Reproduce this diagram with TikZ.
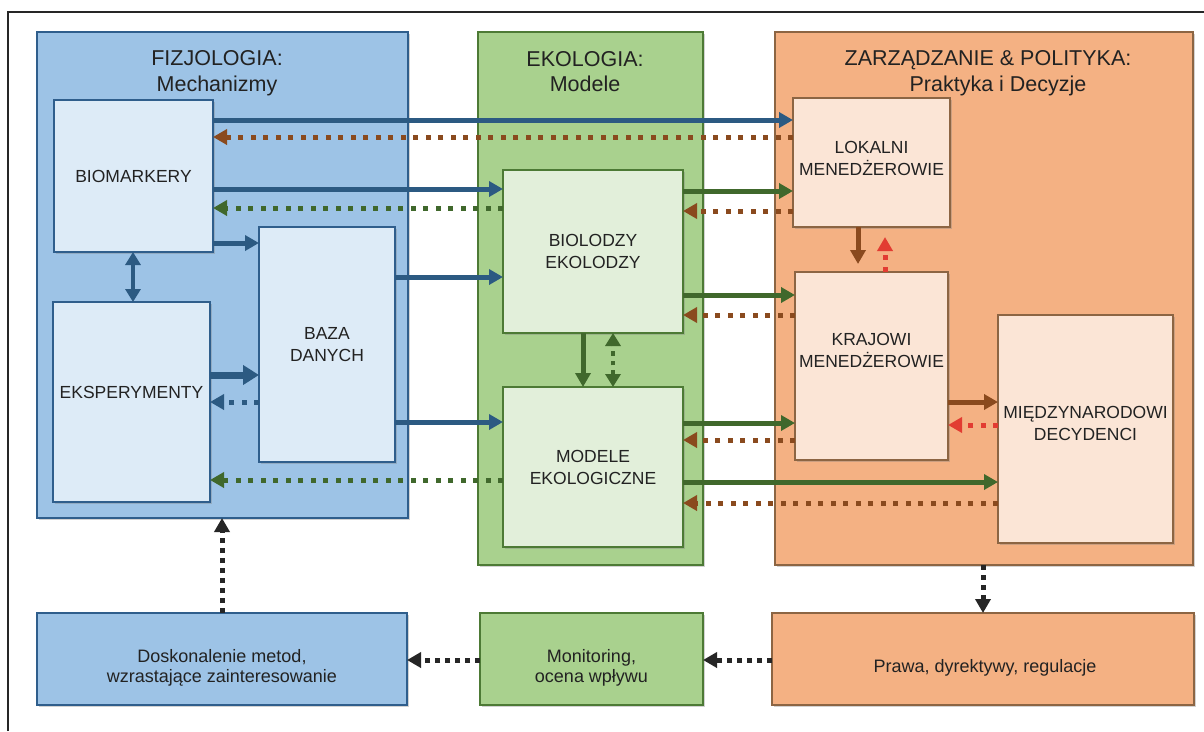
\documentclass[tikz,border=0pt]{standalone}
\usepackage{fontspec}
\setmainfont{Liberation Sans}
\usetikzlibrary{arrows.meta,shadows}
\definecolor{bP}{HTML}{9DC3E6}
\definecolor{bB}{HTML}{2F5E8C}
\definecolor{bL}{HTML}{DDEBF7}
\definecolor{gP}{HTML}{A9D18E}
\definecolor{gB}{HTML}{4D7A35}
\definecolor{gL}{HTML}{E2EFDA}
\definecolor{oP}{HTML}{F4B183}
\definecolor{oB}{HTML}{8C6543}
\definecolor{oL}{HTML}{FBE5D6}
\definecolor{aBlue}{HTML}{2C5A82}
\definecolor{aGreen}{HTML}{40682C}
\definecolor{aBrown}{HTML}{8A4A1E}
\definecolor{aRed}{HTML}{E23C32}
\definecolor{txt}{HTML}{222222}
\newcommand\boxfont{\fontsize{17.5}{22}\selectfont}
\newcommand\lowfont{\fontsize{18}{20}\selectfont}
\newcommand\titlefont{\fontsize{21.5}{27}\selectfont}
\begin{document}
\begin{tikzpicture}[x=1pt,y=-1pt,
  every node/.style={inner sep=0pt,outer sep=0pt,text=txt},
  shd/.style={drop shadow={shadow xshift=1.5pt,shadow yshift=-2pt,opacity=0.35}},
  panelB/.style={draw=bB,fill=bP,line width=2.8pt,shd},
  panelG/.style={draw=gB,fill=gP,line width=2.8pt,shd},
  panelO/.style={draw=oB,fill=oP,line width=2.8pt,shd},
  boxB/.style={draw=bB,fill=bL,line width=2.8pt,shd,align=center,font=\boxfont},
  boxG/.style={draw=gB,fill=gL,line width=2.8pt,shd,align=center,font=\boxfont},
  boxO/.style={draw=oB,fill=oL,line width=2.8pt,shd,align=center,font=\boxfont},
  ttl/.style={font=\titlefont,anchor=base},
  lbl/.style={font=\boxfont,align=center},
  low/.style={font=\lowfont,align=center},
  tipS/.style={-{Triangle[length=14pt,width=15pt]}},
  sol/.style={line width=5pt,tipS},
  dot/.style={line width=5pt,dash pattern=on 5pt off 7.5pt,tipS},
  bsol/.style={sol,draw=aBlue},
  bsolthick/.style={line width=7pt,draw=aBlue,-{Triangle[length=16pt,width=19pt]}},
  bdot/.style={dot,draw=aBlue},
  gsol/.style={sol,draw=aGreen},
  gdot/.style={dot,draw=aGreen},
  brsol/.style={sol,draw=aBrown},
  brdot/.style={dot,draw=aBrown},
  rdot/.style={dot,draw=aRed},
  dbl/.style={{Triangle[length=13pt,width=15pt]}-{Triangle[length=13pt,width=15pt]}},
  kdot/.style={line width=5pt,dash pattern=on 5pt off 5pt,draw=black!85,-{Triangle[length=14pt,width=15pt]}},
]
\useasboundingbox (0,0) rectangle (1204,731);
\fill[white] (0,0) rectangle (1204,731);
\draw[line width=1.5pt,black!85] (8,731) -- (8,12) -- (1204,12);

% panels
\node[panelB,minimum width=371pt,minimum height=486pt] (fiz) at (222.5,275) {};
\node[panelG,minimum width=225pt,minimum height=533pt] (eko) at (590.5,298.5) {};
\node[panelO,minimum width=418pt,minimum height=533pt] (zarz) at (984,298.5) {};

\node[ttl] (tfiz1) at (217,65) {FIZJOLOGIA:};
\node[ttl] (tfiz2) at (217,91) {Mechanizmy};
\node[ttl] (teko1) at (585,66) {EKOLOGIA:};
\node[ttl] (teko2) at (585,91) {Modele};
\node[ttl] (tzar1) at (988,65) {ZARZĄDZANIE \& POLITYKA:};
\node[ttl] (tzar2) at (998,91) {Praktyka i Decyzje};

% inner boxes
\node[boxB,minimum width=159pt,minimum height=152pt] (bio) at (133.5,176) {BIOMARKERY};
\node[boxB,minimum width=157pt,minimum height=200pt] (eks) at (131.5,402) {};
\node[lbl] (ekst) at (131.5,392) {EKSPERYMENTY};
\node[boxB,minimum width=136pt,minimum height=235pt] (baza) at (327,344.5) {BAZA\\DANYCH};
\node[boxG,minimum width=180pt,minimum height=163pt] (biol) at (593,251.5) {BIOLODZY\\EKOLODZY};
\node[boxG,minimum width=180pt,minimum height=160pt] (mod) at (593,467) {MODELE\\EKOLOGICZNE};
\node[boxO,minimum width=157pt,minimum height=129pt] (lok) at (871.5,162.5) {};
\node[lbl] (lokt) at (871.5,158) {LOKALNI\\MENEDŻEROWIE};
\node[boxO,minimum width=153pt,minimum height=188pt] (kraj) at (871.5,366) {};
\node[lbl] (krajt) at (871.5,350) {KRAJOWI\\MENEDŻEROWIE};
\node[boxO,minimum width=175pt,minimum height=228pt] (mied) at (1085.5,429) {};
\node[lbl] (miedt) at (1085.5,423.5) {MIĘDZYNARODOWI\\DECYDENCI};

% bottom boxes
\node[panelB,minimum width=370pt,minimum height=92pt] (dosk) at (222,659) {};
\node[low] (doskt) at (222,668) {Doskonalenie metod,\\wzrastające zainteresowanie};
\node[panelG,minimum width=223pt,minimum height=92pt] (mon) at (591.5,659) {};
\node[low] (mont) at (591.5,668) {Monitoring,\\ocena wpływu};
\node[panelO,minimum width=422pt,minimum height=92pt] (prawa) at (983,659) {};
\node[low] (prawat) at (985,668) {Prawa, dyrektywy, regulacje};

% blue connectors
\draw[bsol] (bio.east |- 0,120) -- (lok.west |- 0,120);
\draw[brdot] (lok.west |- 0,137) -- (bio.east |- 0,137);
\draw[bsol] (bio.east |- 0,189) -- (biol.west |- 0,189);
\draw[gdot] (biol.west |- 0,208) -- (bio.east |- 0,208);
\draw[bsol] (bio.east |- 0,243) -- (baza.west |- 0,243);
\draw[bsol] (baza.east |- 0,277) -- (biol.west |- 0,277);
\draw[bsol] (baza.east |- 0,422) -- (mod.west |- 0,422);
\draw[bsolthick] (eks.east |- 0,375) -- (baza.west |- 0,375);
\draw[bdot] (baza.west |- 0,402) -- (eks.east |- 0,402);
\draw[gdot] (mod.west |- 0,480) -- (eks.east |- 0,480);
\draw[draw=aBlue,line width=4.5pt,dbl] (bio.south -| 133,0) -- (eks.north -| 133,0);

% green connectors
\draw[gsol] (biol.south -| 583,0) -- (mod.north -| 583,0);
\draw[draw=aGreen,line width=4.5pt,dash pattern=on 4.5pt off 5pt,dbl] (mod.north -| 613,0) -- (biol.south -| 613,0);
\draw[gsol] (biol.east |- 0,191) -- (lok.west |- 0,191);
\draw[brdot] (lok.west |- 0,211) -- (biol.east |- 0,211);
\draw[gsol] (biol.east |- 0,295) -- (kraj.west |- 0,295);
\draw[brdot] (kraj.west |- 0,315) -- (biol.east |- 0,315);
\draw[gsol] (mod.east |- 0,423) -- (kraj.west |- 0,423);
\draw[brdot] (kraj.west |- 0,440) -- (mod.east |- 0,440);
\draw[gsol] (mod.east |- 0,482) -- (mied.west |- 0,482);
\draw[brdot] (mied.west |- 0,503) -- (mod.east |- 0,503);

% management connectors
\draw[brsol,shorten >=8pt] (lok.south -| 858,0) -- (kraj.north -| 858,0);
\draw[rdot,shorten >=10pt] (kraj.north -| 885,0) -- (lok.south -| 885,0);
\draw[brsol] (kraj.east |- 0,402) -- (mied.west |- 0,402);
\draw[rdot] (mied.west |- 0,425) -- (kraj.east |- 0,425);

% bottom loop
\draw[kdot] (zarz.south -| 983,0) -- (prawa.north -| 983,0);
\draw[kdot] (prawa.west |- 0,660) -- (mon.east |- 0,660);
\draw[kdot] (mon.west |- 0,660) -- (dosk.east |- 0,660);
\draw[kdot] (dosk.north -| 222,0) -- (fiz.south -| 222,0);
\end{tikzpicture}
\end{document}
